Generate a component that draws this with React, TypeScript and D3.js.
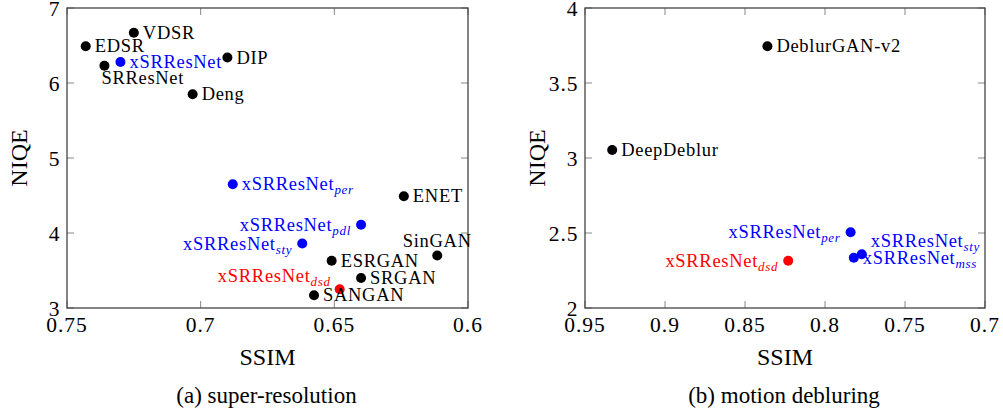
import React from "react";
import { scaleLinear } from "d3";

// (a) super-resolution
const srNames = [
  "VDSR", "EDSR", "SRResNet", "xSRResNet", "DIP", "Deng", "xSRResNet_per", "ENET",
  "xSRResNet_pdl", "xSRResNet_sty", "SinGAN", "ESRGAN", "SRGAN", "xSRResNet_dsd", "SANGAN",
];
const srSsim = [0.725, 0.743, 0.736, 0.73, 0.69, 0.703, 0.688, 0.624, 0.64, 0.662, 0.6115, 0.651, 0.64, 0.648, 0.6576];
const srNiqe = [6.67, 6.49, 6.23, 6.28, 6.34, 5.85, 4.65, 4.49, 4.11, 3.86, 3.7, 3.63, 3.4, 3.25, 3.17];
const srXTicks = [0.75, 0.7, 0.65, 0.6];
const srYTicks = [3, 4, 5, 6, 7];

// (b) motion debluring
const dbNames = ["DeblurGAN-v2", "DeepDeblur", "xSRResNet_per", "xSRResNet_dsd", "xSRResNet_mss", "xSRResNet_sty"];
const dbSsim = [0.836, 0.933, 0.784, 0.823, 0.782, 0.777];
const dbNiqe = [3.745, 3.053, 2.505, 2.315, 2.335, 2.358];
const dbXTicks = [0.95, 0.9, 0.85, 0.8, 0.75, 0.7];
const dbYTicks = [2, 2.5, 3, 3.5, 4];

const SERIF = "Liberation Serif";

// label placement: [anchor, dx, dy]
const srPlace = {
  SRResNet: ["start", -3, 18.5],
  xSRResNet_pdl: ["end", -10, 6],
  xSRResNet_sty: ["end", -10, 6],
  SinGAN: ["middle", 0, -9],
  xSRResNet_dsd: ["end", -9, -7],
};
const dbPlace = {
  xSRResNet_per: ["end", -10, 6],
  xSRResNet_dsd: ["end", -10, 6],
  xSRResNet_sty: ["start", 9, -7.5],
};

const colorOf = (name) =>
  name.endsWith("_dsd") ? "#ff0000" : name.startsWith("xSRResNet") ? "#0000ff" : "#000000";

const Label = ({ name, x, y, place }) => {
  const [anchor, dx, dy] = place[name] || ["start", 9, 6];
  const [main, sub] = name.split("_");
  return (
    <text x={x + dx} y={y + dy} textAnchor={anchor} fill={colorOf(name)}
      fontFamily={SERIF} fontSize={18.5} style={{ fontFamily: SERIF, letterSpacing: 0.7 }}>
      {main}
      {sub && <tspan fontFamily={SERIF} fontStyle="italic" fontSize={13} dy={4}>{sub}</tspan>}
    </text>
  );
};

const Panel = ({ left, right, xDomain, yDomain, xTicks, yTicks, names, xs, ys, place, caption }) => {
  const top = 8, bottom = 308;
  const x = scaleLinear().domain(xDomain).range([left, right]);
  const y = scaleLinear().domain(yDomain).range([bottom, top]);
  const tl = 7;
  const cx = (left + right) / 2;
  return (
    <g>
      {xTicks.map((t) => (
        <g key={"x" + t}>
          <line x1={x(t)} x2={x(t)} y1={bottom} y2={bottom - tl} stroke="#888" />
          <line x1={x(t)} x2={x(t)} y1={top} y2={top + tl} stroke="#888" />
          <text x={x(t)} y={bottom + 24} textAnchor="middle" fontFamily={SERIF} fontSize={21.5}
            style={{ fontFamily: SERIF, letterSpacing: 1 }}>
            {String(t)}
          </text>
        </g>
      ))}
      {yTicks.map((t) => (
        <g key={"y" + t}>
          <line x1={left} x2={left + tl} y1={y(t)} y2={y(t)} stroke="#888" />
          <line x1={right} x2={right - tl} y1={y(t)} y2={y(t)} stroke="#888" />
          <text x={left - 6.5} y={y(t) + 7.5} textAnchor="end" fontFamily={SERIF} fontSize={21.5}
            style={{ fontFamily: SERIF, letterSpacing: 1 }}>
            {String(t)}
          </text>
        </g>
      ))}
      <rect x={left} y={top} width={right - left} height={bottom - top} fill="none" stroke="#444" strokeWidth={1.3} />
      {names.map((n, i) => (
        <circle key={"c" + i} cx={x(xs[i])} cy={y(ys[i])} r={5} fill={colorOf(n)} />
      ))}
      {names.map((n, i) => (
        <Label key={"l" + i} name={n} x={x(xs[i])} y={y(ys[i])} place={place} />
      ))}
      <text transform={`translate(${left - 40},${(top + bottom) / 2}) rotate(-90)`} textAnchor="middle"
        fontFamily={SERIF} fontSize={24} style={{ fontFamily: SERIF }}>NIQE</text>
      <text x={cx} y={365} textAnchor="middle" fontFamily={SERIF} fontSize={24} style={{ fontFamily: SERIF }}>SSIM</text>
      <text x={cx - 1} y={403} textAnchor="middle" fontFamily={SERIF} fontSize={23} style={{ fontFamily: SERIF }}>
        {caption}
      </text>
    </g>
  );
};

export default function App() {
  return (
    <svg width={1003} height={412} style={{ position: "absolute", left: 0, top: 0, background: "#fff" }}>
      <style>{`text, tspan { font-family: "Liberation Serif", "Times New Roman", serif !important; }`}</style>
      <Panel left={67} right={468} xDomain={[0.75, 0.6]} yDomain={[3, 7]} xTicks={srXTicks} yTicks={srYTicks}
        names={srNames} xs={srSsim} ys={srNiqe} place={srPlace} caption="(a) super-resolution" />
      <Panel left={585} right={985} xDomain={[0.95, 0.7]} yDomain={[2, 4]} xTicks={dbXTicks} yTicks={dbYTicks}
        names={dbNames} xs={dbSsim} ys={dbNiqe} place={dbPlace} caption="(b) motion debluring" />
    </svg>
  );
}
